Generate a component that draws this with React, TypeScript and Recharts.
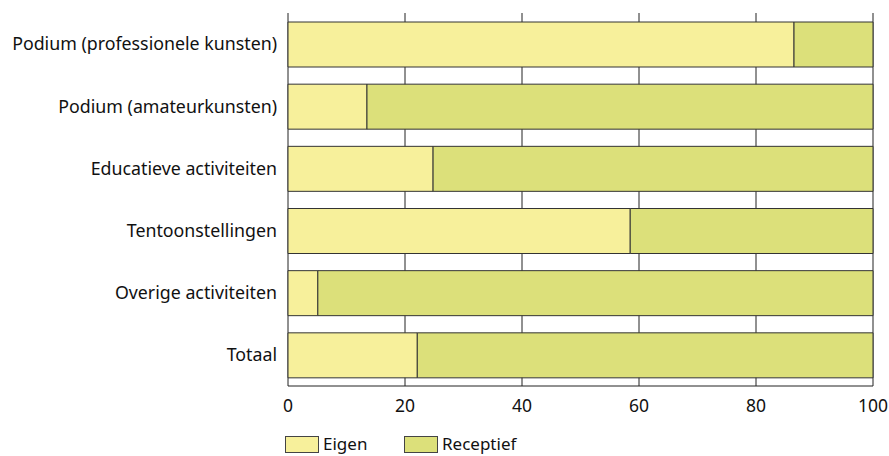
import { BarChart, Bar, XAxis, YAxis, CartesianGrid, Legend } from 'recharts';

const categories = [
  'Podium (professionele kunsten)',
  'Podium (amateurkunsten)',
  'Educatieve activiteiten',
  'Tentoonstellingen',
  'Overige activiteiten',
  'Totaal',
];
const eigen = [86.5, 13.5, 24.8, 58.5, 5.1, 22.1];
const receptief = [13.5, 86.5, 75.2, 41.5, 94.9, 77.9];
const xTicks = [0, 20, 40, 60, 80, 100];

const EIGEN_COLOR = '#f7f09b';
const RECEPTIEF_COLOR = '#dce07a';
const FONT = '"Noto Sans", sans-serif';

const chartData = categories.map((name, i) => ({
  name,
  eigen: eigen[i],
  receptief: receptief[i],
}));

const legendItems = [
  { label: 'Eigen', color: EIGEN_COLOR, x: 285 },
  { label: 'Receptief', color: RECEPTIEF_COLOR, x: 404 },
];

function ChartLegend() {
  return (
    <div style={{ position: 'relative', height: 22, width: 889, fontFamily: FONT, fontSize: 17, color: '#111' }}>
      {legendItems.map((item) => (
        <div
          key={item.label}
          style={{ position: 'absolute', left: item.x, top: 0, height: 22, display: 'flex', alignItems: 'center' }}
        >
          <span
            style={{
              display: 'inline-block',
              width: 32,
              height: 15,
              background: item.color,
              border: '1px solid #444',
              marginRight: 4,
            }}
          />
          <span style={{ lineHeight: '20px' }}>{item.label}</span>
        </div>
      ))}
    </div>
  );
}

export default function App() {
  return (
    <div style={{ position: 'absolute', left: 0, top: 0, width: 889, height: 456, background: '#fff' }}>
      <BarChart
        width={889}
        height={456}
        data={chartData}
        layout="vertical"
        margin={{ top: 13, right: 16, bottom: 18, left: 0 }}
        barCategoryGap={0}
      >
        <CartesianGrid horizontal={false} stroke="#222" />
        <XAxis
          type="number"
          domain={[0, 100]}
          ticks={xTicks}
          height={30}
          tickSize={0}
          tickMargin={14}
          axisLine={{ stroke: '#222' }}
          tick={{ fill: '#111', fontSize: 17.5, fontFamily: FONT }}
          interval={0}
        />
        <YAxis
          type="category"
          dataKey="name"
          width={288}
          tickSize={0}
          tickMargin={11}
          axisLine={false}
          tick={{ fill: '#111', fontSize: 17.8, fontFamily: FONT }}
          interval={0}
        />
        <Legend
          verticalAlign="bottom"
          content={() => <ChartLegend />}
          wrapperStyle={{ position: 'absolute', left: 0, top: 433, width: 889, height: 22 }}
        />
        <Bar dataKey="eigen" stackId="a" fill={EIGEN_COLOR} stroke="#333" strokeWidth={1} barSize={45} isAnimationActive={false} />
        <Bar dataKey="receptief" stackId="a" fill={RECEPTIEF_COLOR} stroke="#333" strokeWidth={1} barSize={45} isAnimationActive={false} />
      </BarChart>
    </div>
  );
}
